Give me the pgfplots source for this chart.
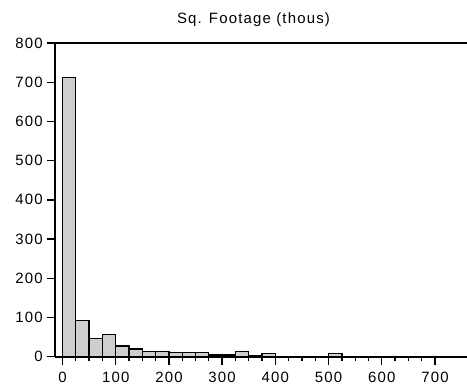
\documentclass[border=0pt]{standalone}
\usepackage{fontspec}
\setmainfont{Liberation Sans}
\newfontfamily\chartfont[LetterSpace=8]{Liberation Sans}
\usepackage{pgfplots}
\pgfplotsset{compat=1.18}
\definecolor{barfill}{RGB}{206,206,206}
\begin{document}
\begin{tikzpicture}
\begin{axis}[
  at={(55bp,30.3bp)}, anchor=south west,
  scale only axis, width=412bp, height=313.7bp,
  xmin=-14, xmax=760, ymin=0, ymax=800,
  axis y line*=left, axis x line*=bottom,
  xtick={0,100,...,700}, minor x tick num=3,
  ytick={0,100,...,800},
  tick align=outside,
  major tick length=8bp, minor tick length=4.5bp,
  every tick/.style={black, line width=1.3bp},
  axis line style={line width=1.6bp, black},
  /pgf/number format/assume math mode=true,
  ticklabel style={font=\chartfont\fontsize{15}{15}\selectfont},
  yticklabel style={inner sep=2bp, xshift=-2bp},
  xticklabel style={inner sep=2bp, yshift=-5bp},
  clip=false,
]
\addplot[ybar interval, fill=barfill, draw=black, line width=1.3bp] coordinates {
(0,712) (25,92) (50,47) (75,57) (100,27) (125,20) (150,13) (175,13)
(200,10) (225,10) (250,10) (275,4) (300,4) (325,13) (350,3) (375,8)
(400,1) (425,1) (450,1) (475,1) (500,8) (525,1) (550,1)
};
\draw[line width=1.6bp, black] (rel axis cs:0,1) -- (rel axis cs:1,1);
\end{axis}
\node[font=\chartfont\fontsize{15}{15}\selectfont, anchor=center] at (253.5bp,367bp) {Sq. Footage (thous)};
\pgfresetboundingbox
\path[use as bounding box] (0,0) rectangle (467bp,387bp);
\end{tikzpicture}
\end{document}
